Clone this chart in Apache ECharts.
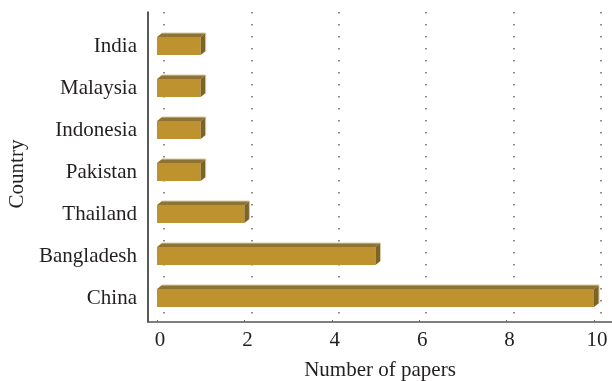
<!DOCTYPE html>
<html>
<head>
<meta charset="utf-8">
<script src="https://cdn.jsdelivr.net/npm/echarts@6/dist/echarts.min.js"></script>
<style>
  html, body { margin: 0; padding: 0; background: #fff; }
  #chart { width: 612px; height: 381px; }
</style>
</head>
<body>
<div id="chart"></div>
<script>
// Countries, listed top to bottom
const countries = ['India', 'Malaysia', 'Indonesia', 'Pakistan', 'Thailand', 'Bangladesh', 'China'];
// Number of papers per country
const papers = [1, 1, 1, 1, 2, 5, 10];
// Value axis ticks
const xTicks = [0, 2, 4, 6, 8, 10];

const FONT = 'Liberation Serif';
const TEXT = '#231f20';

const FACE = '#bd922f';
const TOP = '#8e7332';
const SIDE = '#7c6327';
const EDGE = '#d9caa3';

// Bar with a shallow extruded look: front face, top face and right end face
function renderBar(params, api) {
  const v = api.value(0);
  const c = api.value(1);
  const p0 = api.coord([0, c]);
  const p1 = api.coord([v, c]);
  const h = 18, dx = 5, dy = 4;
  const x0 = p0[0], x1 = p1[0];
  const yT = p0[1] - h / 2, yB = p0[1] + h / 2;
  return {
    type: 'group',
    children: [
      { type: 'rect', shape: { x: x0, y: yT, width: x1 - x0, height: h }, style: { fill: FACE } },
      { type: 'polygon', shape: { points: [[x0, yT], [x0 + dx, yT - dy], [x1 + dx, yT - dy], [x1, yT]] }, style: { fill: TOP } },
      { type: 'polygon', shape: { points: [[x1, yT], [x1 + dx, yT - dy], [x1 + dx, yB - dy], [x1, yB]] }, style: { fill: SIDE } },
      { type: 'polyline', shape: { points: [[x0 + dx, yT - dy], [x1 + dx, yT - dy], [x1 + dx, yB - dy]] }, style: { stroke: EDGE, lineWidth: 1, fill: null } }
    ]
  };
}

const chart = echarts.init(document.getElementById('chart'), null, { renderer: 'canvas' });

chart.setOption({
  animation: false,
  backgroundColor: '#fff',
  grid: [
    // bars
    { left: 157, right: 18, top: 25, bottom: 62 },
    // dotted guide lines
    { left: 164, right: 11, top: 12, bottom: 59 },
    // axis frame
    { left: 148, right: 0, top: 12, bottom: 59 }
  ],
  xAxis: [
    {
      gridIndex: 0, type: 'value', min: xTicks[0], max: xTicks[xTicks.length - 1], interval: 2,
      offset: 3,
      axisLine: { show: false },
      axisTick: { show: true, inside: true, length: 2, lineStyle: { color: '#666', width: 1 } },
      splitLine: { show: false },
      axisLabel: { fontFamily: FONT, fontSize: 21, color: TEXT, margin: 8, padding: [0, 0, 0, 6] }
    },
    {
      gridIndex: 1, type: 'value', min: xTicks[0], max: xTicks[xTicks.length - 1], interval: 2,
      axisLine: { show: false }, axisTick: { show: false }, axisLabel: { show: false },
      splitLine: { show: true, lineStyle: { color: '#6a6a6a', width: 1.5, type: [1.5, 10.5] } }
    },
    {
      gridIndex: 2, type: 'value', min: 0, max: 1,
      axisLine: { show: true, lineStyle: { color: '#555', width: 1.5 } },
      axisTick: { show: false }, axisLabel: { show: false }, splitLine: { show: false }
    }
  ],
  yAxis: [
    {
      gridIndex: 0, type: 'category', data: countries, inverse: true,
      axisLine: { show: false }, axisTick: { show: false },
      axisLabel: { fontFamily: FONT, fontSize: 21, color: TEXT, margin: 20 }
    },
    {
      gridIndex: 1, type: 'value', min: 0, max: 1,
      axisLine: { show: false }, axisTick: { show: false }, axisLabel: { show: false }, splitLine: { show: false }
    },
    {
      gridIndex: 2, type: 'value', min: 0, max: 1,
      axisLine: { show: true, lineStyle: { color: '#222', width: 1.5 } },
      axisTick: { show: false }, axisLabel: { show: false }, splitLine: { show: false }
    }
  ],
  graphic: [
    {
      type: 'text', x: 380, y: 370,
      style: { text: 'Number of papers', font: '21px "Liberation Serif"', fill: TEXT, textAlign: 'center', textVerticalAlign: 'middle' }
    },
    {
      type: 'text', x: 17, y: 174, rotation: Math.PI / 2,
      style: { text: 'Country', font: '21px "Liberation Serif"', fill: TEXT, textAlign: 'center', textVerticalAlign: 'middle' }
    }
  ],
  series: [
    {
      type: 'custom',
      xAxisIndex: 0, yAxisIndex: 0,
      renderItem: renderBar,
      encode: { x: 0, y: 1 },
      data: papers.map((v, i) => [v, i])
    }
  ]
});
</script>
</body>
</html>
